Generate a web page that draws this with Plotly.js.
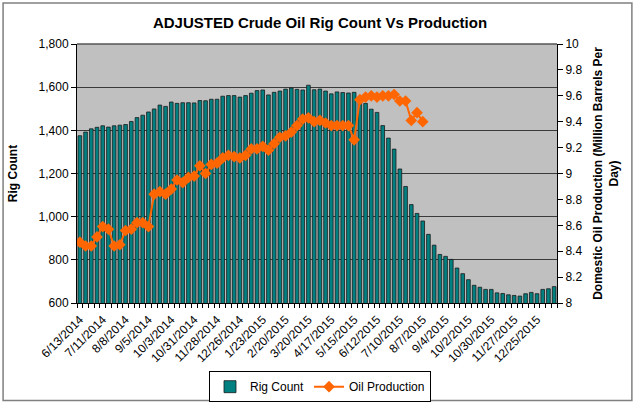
<!DOCTYPE html>
<html>
<head>
<meta charset="utf-8">
<script src="https://cdn.plot.ly/plotly-3.0.1.min.js"></script>
<style>
  html, body { margin: 0; padding: 0; background: #fff; }
  #chart { width: 640px; height: 407px; }
</style>
</head>
<body>
<div id="chart"></div>
<script>
// Weekly dates (categories)
const weeks = [
  "6/13/2014","6/20/2014","6/27/2014","7/4/2014","7/11/2014","7/18/2014","7/25/2014",
  "8/1/2014","8/8/2014","8/15/2014","8/22/2014","8/29/2014","9/5/2014","9/12/2014",
  "9/19/2014","9/26/2014","10/3/2014","10/10/2014","10/17/2014","10/24/2014","10/31/2014",
  "11/7/2014","11/14/2014","11/21/2014","11/28/2014","12/5/2014","12/12/2014","12/19/2014",
  "12/26/2014","1/2/2015","1/9/2015","1/16/2015","1/23/2015","1/30/2015","2/6/2015",
  "2/13/2015","2/20/2015","2/27/2015","3/6/2015","3/13/2015","3/20/2015","3/27/2015",
  "4/3/2015","4/10/2015","4/17/2015","4/24/2015","5/1/2015","5/8/2015","5/15/2015",
  "5/22/2015","5/29/2015","6/5/2015","6/12/2015","6/19/2015","6/26/2015","7/3/2015",
  "7/10/2015","7/17/2015","7/24/2015","7/31/2015","8/7/2015","8/14/2015","8/21/2015",
  "8/28/2015","9/4/2015","9/11/2015","9/18/2015","9/25/2015","10/2/2015","10/9/2015",
  "10/16/2015","10/23/2015","10/30/2015","11/6/2015","11/13/2015","11/20/2015","11/27/2015",
  "12/4/2015","12/11/2015","12/18/2015","12/25/2015","1/1/2016","1/8/2016","1/15/2016"
];

// Adjusted rig count (left axis)
const rigCount = [
  1375,1392,1407,1414,1421,1415,1421,1424,1427,1441,1459,1470,1485,1499,
  1517,1511,1531,1525,1528,1528,1527,1538,1537,1544,1544,1558,1561,1561,
  1554,1561,1572,1584,1587,1564,1576,1582,1591,1596,1590,1587,1609,1588,
  1591,1582,1569,1578,1575,1573,1576,1545,1525,1498,1483,1422,1364,1313,
  1221,1140,1056,1015,980,918,868,825,816,802,762,736,708,682,
  673,663,663,647,644,638,635,632,643,649,643,663,666,676
];

// Domestic oil production, million barrels per day (right axis)
const oilProduction = [
  8.47,8.44,8.44,8.51,8.59,8.57,8.44,8.45,8.56,8.57,8.62,8.62,8.59,8.84,
  8.86,8.84,8.88,8.95,8.93,8.97,8.98,9.06,9.00,9.07,9.08,9.12,9.14,9.13,
  9.12,9.14,9.19,9.19,9.21,9.18,9.23,9.28,9.29,9.32,9.37,9.42,9.43,9.40,
  9.41,9.39,9.37,9.37,9.37,9.37,9.26,9.57,9.59,9.60,9.59,9.60,9.60,9.61,
  9.56,9.56,9.41,9.47,9.40
];

// Labelled ticks (every fourth week)
const tickLabels = [
  "6/13/2014","7/11/2014","8/8/2014","9/5/2014","10/3/2014","10/31/2014","11/28/2014",
  "12/26/2014","1/23/2015","2/20/2015","3/20/2015","4/17/2015","5/15/2015","6/12/2015",
  "7/10/2015","8/7/2015","9/4/2015","10/2/2015","10/30/2015","11/27/2015","12/25/2015"
];

const FONT = "Liberation Sans, Arial, sans-serif";

const tickText = weeks.map(w => tickLabels.includes(w) ? w : "");

const traces = [
  {
    type: "bar",
    name: "Rig Count",
    x: weeks,
    y: rigCount,
    marker: { color: "#008080", line: { color: "#1a1a1a", width: 0.8 } },
    yaxis: "y"
  },
  {
    type: "scatter",
    mode: "lines+markers",
    name: "Oil Production",
    x: weeks.slice(0, oilProduction.length),
    y: oilProduction,
    yaxis: "y2",
    line: { color: "#FF6600", width: 2 },
    marker: { symbol: "diamond", size: 9, color: "#FF6600" }
  }
];

const layout = {
  width: 640,
  height: 407,
  margin: { l: 77, r: 83, t: 44, b: 104, autoexpand: false },
  paper_bgcolor: "#ffffff",
  plot_bgcolor: "#C0C0C0",
  font: { family: FONT, size: 12, color: "#000" },
  showlegend: true,
  bargap: 0.36,
  title: {
    text: "<b>ADJUSTED Crude Oil Rig Count Vs Production</b>",
    font: { family: FONT, size: 15, color: "#000" },
    x: 0.5, xref: "container", xanchor: "center",
    y: 0.945, yref: "container", yanchor: "middle"
  },
  xaxis: {
    type: "category",
    categoryorder: "array",
    categoryarray: weeks,
    range: [-0.5, weeks.length - 0.5],
    tickmode: "array",
    tickvals: weeks,
    ticktext: tickText,
    tickson: "boundaries",
    ticks: "outside",
    ticklen: 4,
    tickcolor: "#000",
    tickwidth: 1,
    tickangle: -45,
    ticklabelstandoff: 4,
    tickfont: { family: FONT, size: 12, color: "#000" },
    showline: true,
    linecolor: "#000",
    linewidth: 1,
    showgrid: false,
    zeroline: false,
    automargin: false,
    fixedrange: true
  },
  yaxis: {
    range: [600, 1800],
    dtick: 200,
    tick0: 600,
    tickformat: ",d",
    ticks: "outside",
    ticklen: 5,
    tickcolor: "#000",
    showline: true,
    linecolor: "#000",
    showgrid: true,
    gridcolor: "#3a3a3a",
    gridwidth: 1,
    zeroline: false,
    automargin: false,
    tickfont: { family: FONT, size: 12, color: "#000" },
    title: {
      text: "<b>Rig Count</b>",
      font: { family: FONT, size: 12, color: "#000" },
      standoff: 18
    }
  },
  yaxis2: {
    overlaying: "y",
    side: "right",
    range: [8, 10],
    dtick: 0.2,
    tick0: 8,
    ticks: "outside",
    ticklen: 5,
    tickcolor: "#000",
    showline: true,
    linecolor: "#000",
    showgrid: false,
    zeroline: false,
    automargin: false,
    tickfont: { family: FONT, size: 12, color: "#000" },
    title: {
      text: "<b>Domestic Oil Production (Million Barrels Per<br>Day)</b>",
      font: { family: FONT, size: 12, color: "#000" },
      standoff: 12
    }
  },
  legend: {
    orientation: "h",
    xref: "container", yref: "container",
    x: 0.5, xanchor: "center",
    y: 0.088, yanchor: "top",
    bordercolor: "#000",
    borderwidth: 1,
    bgcolor: "#fff",
    font: { family: FONT, size: 12, color: "#000" },
    itemwidth: 30,
    tracegroupgap: 0
  },
  shapes: [
    {
      type: "rect", xref: "paper", yref: "paper",
      x0: 0, x1: 1, y0: 1, y1: 1,
      line: { color: "#555", width: 1 }
    },
    {
      type: "rect", xref: "paper", yref: "paper",
      x0: -0.154, x1: 1.156, y0: -0.376, y1: 1.158,
      line: { color: "#808080", width: 1.5 },
      layer: "below"
    }
  ]
};

Plotly.newPlot("chart", traces, layout, { displayModeBar: false, staticPlot: true });
</script>
</body>
</html>
